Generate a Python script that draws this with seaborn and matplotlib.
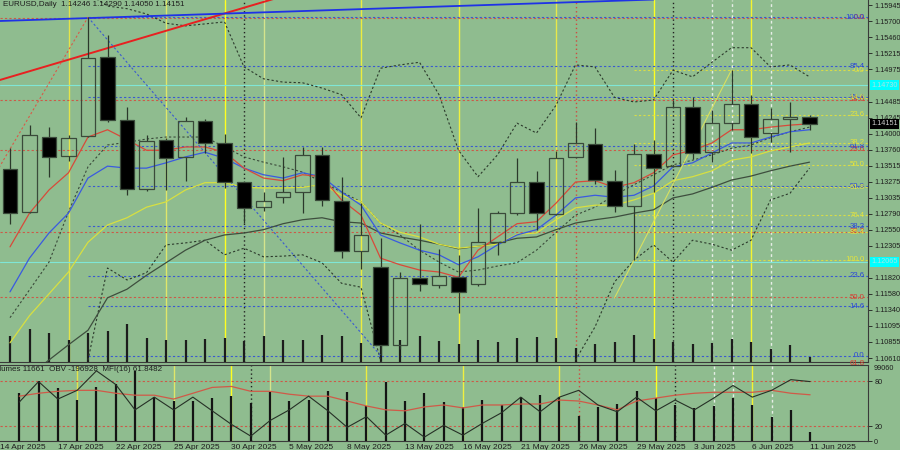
import numpy as np
import matplotlib
matplotlib.use("Agg")
import matplotlib.pyplot as plt
import seaborn as sns

# ------------------------------
# Daily EURUSD bars, 15 Apr .. 11 Jun 2025 (index 0..41)
# ------------------------------
opens = [1.13467, 1.12817, 1.13951, 1.13665, 1.13966, 1.15160, 1.14207, 1.13165, 1.13905, 1.13649,
         1.14192, 1.13860, 1.13271, 1.12892, 1.13044, 1.13120, 1.13679, 1.12983, 1.12228, 1.11986,
         1.10807, 1.11820, 1.11714, 1.11835, 1.11730, 1.12364, 1.12802, 1.13271, 1.12787, 1.13649,
         1.13845, 1.13286, 1.12908, 1.13694, 1.13513, 1.14404, 1.13729, 1.14162, 1.14449, 1.14011,
         1.14223, 1.14246]
highs = [1.13784, 1.14132, 1.14102, 1.13980, 1.15760, 1.15492, 1.14404, 1.13980, 1.13935, 1.14253,
         1.14223, 1.13996, 1.13286, 1.13120, 1.13649, 1.13799, 1.13799, 1.13346, 1.12953, 1.12424,
         1.11910, 1.12636, 1.12258, 1.12167, 1.12877, 1.12832, 1.13634, 1.13437, 1.13739, 1.14177,
         1.14086, 1.13452, 1.13845, 1.13905, 1.14508, 1.14555, 1.14359, 1.14963, 1.14585, 1.14389,
         1.14480, 1.14290]
lows = [1.12636, 1.12800, 1.13346, 1.13588, 1.13950, 1.14177, 1.13074, 1.13135, 1.13150, 1.13286,
        1.13709, 1.13180, 1.12651, 1.12832, 1.12953, 1.12802, 1.12908, 1.12122, 1.11956, 1.10650,
        1.10750, 1.11623, 1.11669, 1.11284, 1.11699, 1.12167, 1.12771, 1.12545, 1.12770, 1.13640,
        1.13240, 1.12817, 1.12092, 1.13120, 1.13500, 1.13618, 1.13573, 1.14056, 1.13709, 1.13875,
        1.13729, 1.14050]
closes = [1.12802, 1.13980, 1.13649, 1.13935, 1.15144, 1.14207, 1.13165, 1.13890, 1.13634, 1.14192,
          1.13860, 1.13271, 1.12877, 1.12983, 1.13120, 1.13679, 1.12995, 1.12228, 1.12470, 1.10807,
          1.11820, 1.11730, 1.11850, 1.11608, 1.12364, 1.12802, 1.13271, 1.12802, 1.13634, 1.13860,
          1.13301, 1.12908, 1.13694, 1.13482, 1.14404, 1.13709, 1.14162, 1.14449, 1.13951, 1.14223,
          1.14253, 1.14151]
volumes = [63040, 79760, 69470, 54030, 70760, 74620, 92630, 57890, 52750, 52750,
           56610, 59180, 50170, 64320, 52750, 54030, 65610, 64320, 46310, 78480,
           52750, 63040, 51460, 45030, 54030, 47600, 57890, 60460, 57890, 33450,
           45030, 48890, 65610, 56610, 47600, 43740, 46310, 56610, 47600, 32160,
           41170, 11661]

# moving averages / envelope lines
ma_red = [1.1229, 1.1280, 1.1315, 1.1341, 1.1395, 1.1406, 1.1391, 1.1375, 1.1375, 1.1380,
          1.1380, 1.1372, 1.1348, 1.1333, 1.1329, 1.1338, 1.1335, 1.1300, 1.1277, 1.1212,
          1.1202, 1.1194, 1.1191, 1.1183, 1.1224, 1.1244, 1.1264, 1.1267, 1.1295, 1.1327,
          1.1329, 1.1319, 1.1326, 1.1341, 1.1368, 1.1375, 1.1386, 1.1406, 1.1406, 1.1410,
          1.1413, 1.1415]
ma_blue = [1.1161, 1.1212, 1.1250, 1.1280, 1.1333, 1.1351, 1.1348, 1.1348, 1.1356, 1.1365,
           1.1372, 1.1363, 1.1348, 1.1338, 1.1333, 1.1341, 1.1335, 1.1312, 1.1292, 1.1247,
           1.1235, 1.1224, 1.1217, 1.1202, 1.1214, 1.1232, 1.1247, 1.1255, 1.1277, 1.1303,
           1.1307, 1.1304, 1.1307, 1.1321, 1.1350, 1.1356, 1.1371, 1.1386, 1.1386, 1.1395,
           1.1403, 1.1406]
ma_yellow = [1.1084, 1.1125, 1.1158, 1.1191, 1.1236, 1.1262, 1.1273, 1.1289, 1.1297, 1.1315,
             1.1326, 1.1326, 1.1319, 1.1318, 1.1318, 1.1319, 1.1323, 1.1307, 1.1297, 1.1265,
             1.1251, 1.1244, 1.1233, 1.1227, 1.1230, 1.1233, 1.1248, 1.1250, 1.1270, 1.1288,
             1.1292, 1.1292, 1.1300, 1.1310, 1.1329, 1.1335, 1.1344, 1.1360, 1.1365, 1.1374,
             1.1380, 1.1386]
ma_gray = [1.1005, 1.1035, 1.1058, 1.1081, 1.1103, 1.1152, 1.1165, 1.1186, 1.1205, 1.1224,
           1.1239, 1.1247, 1.1250, 1.1255, 1.1264, 1.1270, 1.1273, 1.1267, 1.1265, 1.1250,
           1.1244, 1.1239, 1.1233, 1.1226, 1.1230, 1.1235, 1.1242, 1.1244, 1.1255, 1.1265,
           1.1270, 1.1274, 1.1280, 1.1285, 1.1303, 1.1309, 1.1319, 1.1330, 1.1336, 1.1344,
           1.1351, 1.1357]
env_mid = [1.1122, 1.1164, 1.1206, 1.1282, 1.1350, 1.1383, 1.1387, 1.1392, 1.1395, 1.1395,
           1.1395, 1.1380, 1.1365, 1.1357, 1.1350, 1.1342, 1.1327, 1.1312, 1.1297, 1.1265,
           1.1247, 1.1224, 1.1206, 1.1191, 1.1194, 1.1200, 1.1205, 1.1224, 1.1251, 1.1277,
           1.1289, 1.1307, 1.1323, 1.1338, 1.1353, 1.1360, 1.1368, 1.1378, 1.1383, 1.1394,
           1.1403, 1.1410]
nan = float("nan")
env_up = [nan, nan, nan, nan, 1.1612, 1.1593, 1.1589, 1.1581, 1.1567, 1.1563,
          1.1566, 1.1569, 1.1501, 1.1483, 1.1478, 1.1477, 1.1469, 1.1459, 1.1424, 1.1499,
          1.1504, 1.1508, 1.1459, 1.1375, 1.1335, 1.1368, 1.1416, 1.1401, 1.1443, 1.1504,
          1.1501, 1.1455, 1.1448, 1.1451, 1.1496, 1.1486, 1.1508, 1.1530, 1.1530, 1.1501,
          1.1504, 1.1486]
env_dn = [nan, nan, nan, 1.0990, 1.1058, 1.1197, 1.1179, 1.1190, 1.1232, 1.1235,
          1.1239, 1.1217, 1.1227, 1.1214, 1.1215, 1.1217, 1.1205, 1.1174, 1.1168, 1.1058,
          1.0990, nan, nan, nan, nan, nan, nan, nan, 1.0990, 1.1058,
          1.1108, 1.1176, 1.1209, 1.1232, 1.1206, 1.1239, 1.1233, 1.1224, 1.1239, 1.1300,
          1.1310, 1.1348]

# lower window: OBV (own scale, read as 0..100 of the window) and MFI(16)
obv_scaled = [52.1, 79.5, 56.1, 67.8, 93.9, 75.6, 41.7, 58.7, 41.7, 58.7,
              40.4, 22.2, 6.5, 27.4, 41.7, 60.0, 40.4, 18.3, 32.6, 7.8,
              23.5, 5.2, 20.9, 7.8, 23.5, 37.8, 58.7, 39.1, 58.7, 67.8,
              48.2, 39.1, 58.7, 40.4, 54.8, 41.7, 57.4, 74.3, 58.7, 67.8,
              82.1, 79.5]
mfi = [60.0, 63.9, 66.5, 67.8, 67.8, 63.9, 61.3, 61.3, 56.1, 63.9,
       71.7, 73.0, 66.5, 66.5, 62.6, 60.0, 60.0, 53.5, 46.9, 41.7,
       40.4, 45.6, 48.2, 44.3, 48.2, 48.2, 49.5, 49.5, 54.8, 53.5,
       48.2, 41.7, 53.5, 57.4, 61.3, 63.9, 65.2, 65.2, 65.2, 67.8,
       63.9, 61.85]

# axis labels
price_ticks = [1.15945, 1.15700, 1.15460, 1.15215, 1.14975, 1.14485, 1.14245, 1.14000,
               1.13760, 1.13515, 1.13275, 1.13035, 1.12790, 1.12550, 1.12305, 1.11820,
               1.11580, 1.11340, 1.11095, 1.10855, 1.10610]
date_idx = [-1, 2, 5, 8, 11, 14, 17, 20, 23, 26, 29, 32, 35, 38, 41]
date_labels = ["14 Apr 2025", "17 Apr 2025", "22 Apr 2025", "25 Apr 2025", "30 Apr 2025",
               "5 May 2025", "8 May 2025", "13 May 2025", "16 May 2025", "21 May 2025",
               "26 May 2025", "29 May 2025", "3 Jun 2025", "6 Jun 2025", "11 Jun 2025"]

# fibonacci grids: (high, low)
fib_ratios = [0.0, 14.6, 23.6, 38.2, 50.0, 61.8, 76.4, 85.4, 100.0]
red_fib = (1.15749, 1.07301)     # 0% at top
blue_fib = (1.15764, 1.10641)    # 100% at top
yellow_fib = (1.14963, 1.12092)  # 0% at top

alert_levels = [1.14730, 1.12065]
trend_red = ([-1, 14], [1.14770, 1.16079])
trend_blue = ([-1, 33], [1.15699, 1.16028])
zig_down = ([4, 19], [1.15760, 1.10650])
zig_up = ([-1, 4], [1.13270, 1.15760])
zig_yellow = ([31, 37], [1.11517, 1.14963])

BG = "#8fbc8f"
DARK = "#2b382b"
TXT = "#1e1e1e"
FS = 5.2


def main():
    sns.set_style("white")
    plt.rcParams["font.family"] = ["Liberation Sans", "DejaVu Sans"]

    fig = plt.figure(figsize=(9, 4.5), dpi=100, facecolor=BG)
    ax = fig.add_axes([0, 88 / 450, 868 / 900, 362 / 450], facecolor=BG)
    ax_lo = fig.add_axes([0, 9 / 450, 868 / 900, 76 / 450], facecolor=BG)

    x = np.arange(len(opens))
    xlim = (-10 / 19.5, 858 / 19.5)
    ylim = (1.10550, 1.16021)

    # ------------------------------
    # vertical marker lines (both windows)
    # ------------------------------
    vlines = [(3, "#e4e44a", "-"), (8, "#e0e66a", "-"), (11, "#ffff20", "-"),
              (13, "#d4e48c", "-"), (18, "#ecec40", "-"), (23, "#f0f040", "-"),
              (28, "#e8e84a", "-"), (33, "#ffff20", "-"), (38, "#f4f430", "-"),
              (36, "#e6eee6", (0, (2, 2))), (37, "#e6eee6", (0, (2, 2))),
              (39, "#e6eee6", (0, (2, 2))), (12, "#222222", (0, (1, 2))),
              (34, "#222222", (0, (1, 2))), (29, "#d04a40", (0, (1, 2)))]
    for a in (ax, ax_lo):
        for b, c, ls in vlines:
            a.axvline(b, color=c, lw=1.0, ls=ls, zorder=1)

    # ------------------------------
    # fibonacci levels
    # ------------------------------
    dots = (0, (2, 2))
    ytr = ax.get_yaxis_transform()
    hi, lo = red_fib
    for r in fib_ratios[:6]:
        lvl = hi - r / 100 * (hi - lo)
        ax.hlines(lvl, xlim[0], xlim[1], color="#cc5a48", lw=0.8, ls=dots, zorder=2)
        ax.text(0.996, lvl, f"{r:.1f}", color="#d83a30", fontsize=5.6, ha="right",
                va="center", transform=ytr, zorder=6)
    hi, lo = blue_fib
    for r in fib_ratios:
        lvl = lo + r / 100 * (hi - lo)
        ax.hlines(lvl, 4, xlim[1], color="#3a5ad0", lw=0.8, ls=dots, zorder=2)
        ax.text(0.996, lvl, f"{r:.1f}", color="#2a48d8", fontsize=5.6, ha="right",
                va="center", transform=ytr, zorder=6)
    hi, lo = yellow_fib
    for r in fib_ratios:
        lvl = hi - r / 100 * (hi - lo)
        ax.hlines(lvl, 32, xlim[1], color="#d8dc48", lw=0.8, ls=dots, zorder=2)
        ax.text(0.996, lvl, f"{r:.1f}", color="#e4e43c", fontsize=5.6, ha="right",
                va="center", transform=ytr, zorder=6)
    for lvl in alert_levels:
        ax.axhline(lvl, color="#7fe6d6", lw=0.8, zorder=2)

    # ------------------------------
    # volumes in the price window
    # ------------------------------
    v = np.array(volumes)
    ax.vlines(x, 0, v / 882000, transform=ax.get_xaxis_transform(),
              color="#1c1c1c", lw=1.6, zorder=3)

    # ------------------------------
    # indicator lines
    # ------------------------------
    ax.plot(x, env_up, color="#2c3a2c", lw=0.8, ls=(0, (2, 2)), zorder=3)
    ax.plot(x, env_dn, color="#2c3a2c", lw=0.8, ls=(0, (2, 2)), zorder=3)
    ax.plot(x, env_mid, color="#3a4a3a", lw=0.8, ls=(0, (2, 2)), zorder=3)
    sns.lineplot(x=x, y=ma_gray, ax=ax, color="#3e4e3e", lw=0.9, zorder=3)
    sns.lineplot(x=x, y=ma_yellow, ax=ax, color="#d8e040", lw=0.9, zorder=3)
    sns.lineplot(x=x, y=ma_blue, ax=ax, color="#3a5ae0", lw=0.9, zorder=3)
    sns.lineplot(x=x, y=ma_red, ax=ax, color="#d84a3a", lw=0.9, zorder=3)

    ax.plot(*trend_red, color="#e82020", lw=1.4, zorder=4)
    ax.plot(*trend_blue, color="#1e32e6", lw=1.3, zorder=4)
    ax.plot(*zig_down, color="#3a5ad0", lw=0.8, ls=(0, (2, 2)), zorder=4)
    ax.plot(*zig_up, color="#d85a48", lw=0.8, ls=(0, (2, 2)), zorder=4)
    ax.plot(*zig_yellow, color="#d8e060", lw=0.8, zorder=4)

    # ------------------------------
    # candles
    # ------------------------------
    for i in x:
        o, h, l, c = opens[i], highs[i], lows[i], closes[i]
        top, bot = max(o, c), min(o, c)
        ax.vlines(i, top, h, color=DARK, lw=0.9, zorder=5)
        ax.vlines(i, l, bot, color=DARK, lw=0.9, zorder=5)
        body = max(top - bot, 0.00003)
        ax.bar(i, body, bottom=bot, width=0.76,
               color="black" if c < o else "none",
               edgecolor="#3a4a3a", linewidth=0.9, zorder=5)

    ax.text(0.003, 0.997, "EURUSD,Daily  1.14246 1.14290 1.14050 1.14151",
            transform=ax.transAxes, fontsize=5.8, color=TXT, va="top", ha="left")

    ax.set_xlim(*xlim)
    ax.set_ylim(*ylim)
    ax.set_xticks([])
    ax.yaxis.tick_right()
    ax.set_yticks(price_ticks)
    ax.set_yticklabels([f"{p:.5f}" for p in price_ticks])
    ax.tick_params(axis="y", labelsize=FS, colors=TXT, length=3, pad=1.5, width=0.6)
    for s in ("top", "left"):
        ax.spines[s].set_visible(False)
    for s in ("right", "bottom"):
        ax.spines[s].set_color("#3a3a3a")
        ax.spines[s].set_linewidth(0.8)

    # price boxes on the scale
    for lvl in alert_levels:
        ax.text(1.0035, lvl, f"{lvl:.5f}", transform=ytr, fontsize=FS,
                color="#a8e4e4", va="center", ha="left", clip_on=False,
                bbox=dict(boxstyle="square,pad=0.2", fc="#00ffff", ec="none"))
    ax.text(1.0035, closes[-1], f"{closes[-1]:.5f}", transform=ytr,
            fontsize=FS, color="#d0d0d0", va="center", ha="left", clip_on=False,
            bbox=dict(boxstyle="square,pad=0.2", fc="black", ec="none"))

    # ------------------------------
    # lower window: volumes, OBV, MFI
    # ------------------------------
    ax_lo.vlines(x, 0, v / 100347, transform=ax_lo.get_xaxis_transform(),
                 color="#141414", lw=1.6, zorder=3)
    for lvl in (80, 20):
        ax_lo.axhline(lvl, color="#cc5a48", lw=0.8, ls=(0, (2, 2)), zorder=2)
    sns.lineplot(x=x, y=mfi, ax=ax_lo, color="#d05a48", lw=0.9, zorder=4)
    sns.lineplot(x=x, y=obv_scaled, ax=ax_lo, color="#263026", lw=0.8, zorder=4)
    ax_lo.text(-0.011, 0.985, "Volumes 11661  OBV -196928  MFI(16) 61.8482",
               transform=ax_lo.transAxes, fontsize=5.8, color=TXT, va="top", ha="left")

    ax_lo.set_xlim(*xlim)
    ax_lo.set_ylim(0, 101.7)
    ax_lo.yaxis.tick_right()
    ax_lo.set_yticks([0, 20, 80])
    ax_lo.set_yticklabels(["0", "20", "80"])
    ax_lo.text(1.006, 0.96, "99060", transform=ax_lo.transAxes, fontsize=FS,
               color=TXT, va="center", ha="left")
    ax_lo.set_xticks(date_idx)
    ax_lo.set_xticklabels(date_labels, ha="left")
    ax_lo.tick_params(axis="y", labelsize=FS, colors=TXT, length=3, pad=1.5, width=0.6)
    ax_lo.tick_params(axis="x", labelsize=6.0, colors=TXT, length=2, pad=0.3, width=0.6)
    ax_lo.spines["left"].set_visible(False)
    for s in ("right", "bottom", "top"):
        ax_lo.spines[s].set_color("#3a3a3a")
        ax_lo.spines[s].set_linewidth(0.8)

    fig.savefig("out.png", dpi=100, facecolor=BG)


if __name__ == "__main__":
    main()
